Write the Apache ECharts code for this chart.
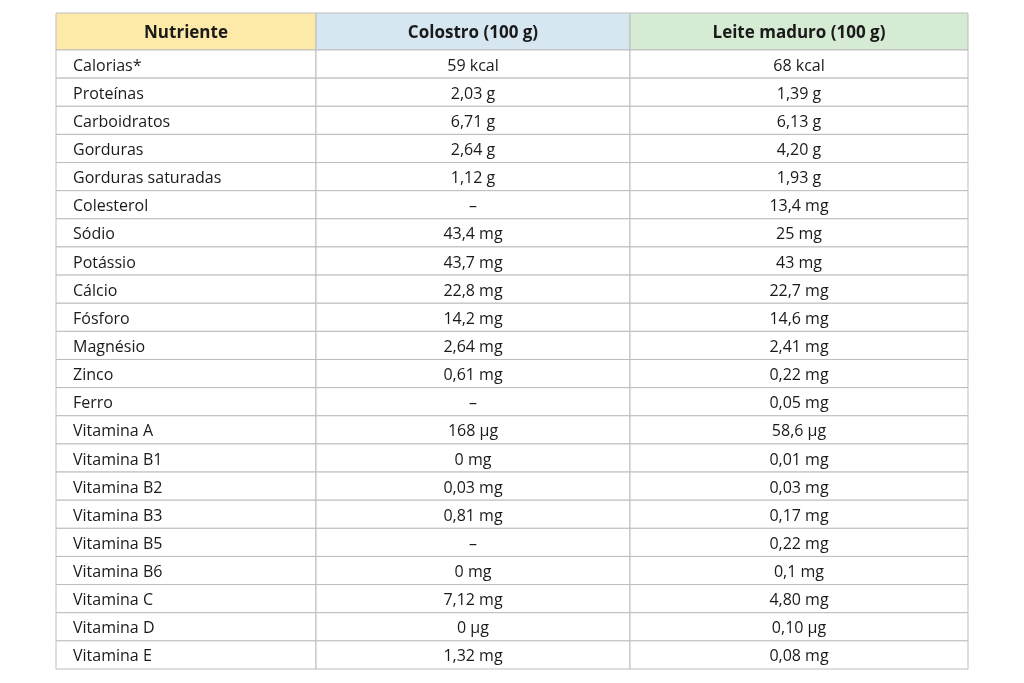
<!DOCTYPE html>
<html><head><meta charset="utf-8">
<script src="https://cdn.jsdelivr.net/npm/echarts@6/dist/echarts.min.js"></script>
<style>html,body{margin:0;background:#fff}#c{width:1024px;height:683px}</style>
</head><body><div id="c"></div>
<script>
const headers = ['Nutriente', 'Colostro (100 g)', 'Leite maduro (100 g)'];
const nutrients = ['Calorias*','Proteínas','Carboidratos','Gorduras','Gorduras saturadas','Colesterol','Sódio','Potássio','Cálcio','Fósforo','Magnésio','Zinco','Ferro','Vitamina A','Vitamina B1','Vitamina B2','Vitamina B3','Vitamina B5','Vitamina B6','Vitamina C','Vitamina D','Vitamina E'];
const colostro = ['59 kcal','2,03 g','6,71 g','2,64 g','1,12 g','–','43,4 mg','43,7 mg','22,8 mg','14,2 mg','2,64 mg','0,61 mg','–','168 µg','0 mg','0,03 mg','0,81 mg','–','0 mg','7,12 mg','0 µg','1,32 mg'];
const leiteMaduro = ['68 kcal','1,39 g','6,13 g','4,20 g','1,93 g','13,4 mg','25 mg','43 mg','22,7 mg','14,6 mg','2,41 mg','0,22 mg','0,05 mg','58,6 µg','0,01 mg','0,03 mg','0,17 mg','0,22 mg','0,1 mg','4,80 mg','0,10 µg','0,08 mg'];

const colEdges = [0, 260, 574, 912];
const hdrH = 37 / 28.14;
const headerColors = ['#fdeaa8', '#d7e7f1', '#d6ebd3'];
const cols = [nutrients, colostro, leiteMaduro];
const data = [];
headers.forEach((h, c) => data.push([c, -1, h]));
cols.forEach((arr, c) => arr.forEach((v, r) => data.push([c, r, v])));

const chart = echarts.init(document.getElementById('c'));
chart.setOption({
  animation: false,
  grid: {left: 56, right: 56, top: 13, bottom: 14},
  xAxis: {type: 'value', min: 0, max: 912, show: false},
  yAxis: {type: 'value', min: 0, max: 22 + hdrH, inverse: true, show: false},
  series: [{
    type: 'custom',
    data: data,
    renderItem: function (params, api) {
      const c = api.value(0), r = api.value(1), txt = data[params.dataIndex][2];
      const y0 = r < 0 ? 0 : hdrH + r, y1 = r < 0 ? hdrH : hdrH + r + 1;
      const p0 = api.coord([colEdges[c], y0]), p1 = api.coord([colEdges[c + 1], y1]);
      const isH = r < 0;
      const left = c === 0 && !isH;
      return {
        type: 'group',
        children: [
          {type: 'rect', shape: {x: p0[0], y: p0[1], width: p1[0] - p0[0], height: p1[1] - p0[1]},
           style: {fill: isH ? headerColors[c] : '#fff', stroke: '#bdbdbd', lineWidth: 1}},
          {type: 'text', style: {
            text: txt, x: left ? p0[0] + 17 : (p0[0] + p1[0]) / 2, y: (p0[1] + p1[1]) / 2 + 2,
            align: left ? 'left' : 'center', verticalAlign: 'middle',
            font: (isH ? 'bold 17px' : '16px') + ' "Open Sans", "Noto Sans", sans-serif', fill: '#1a1a1a'}}
        ]
      };
    }
  }]
});
</script></body></html>
